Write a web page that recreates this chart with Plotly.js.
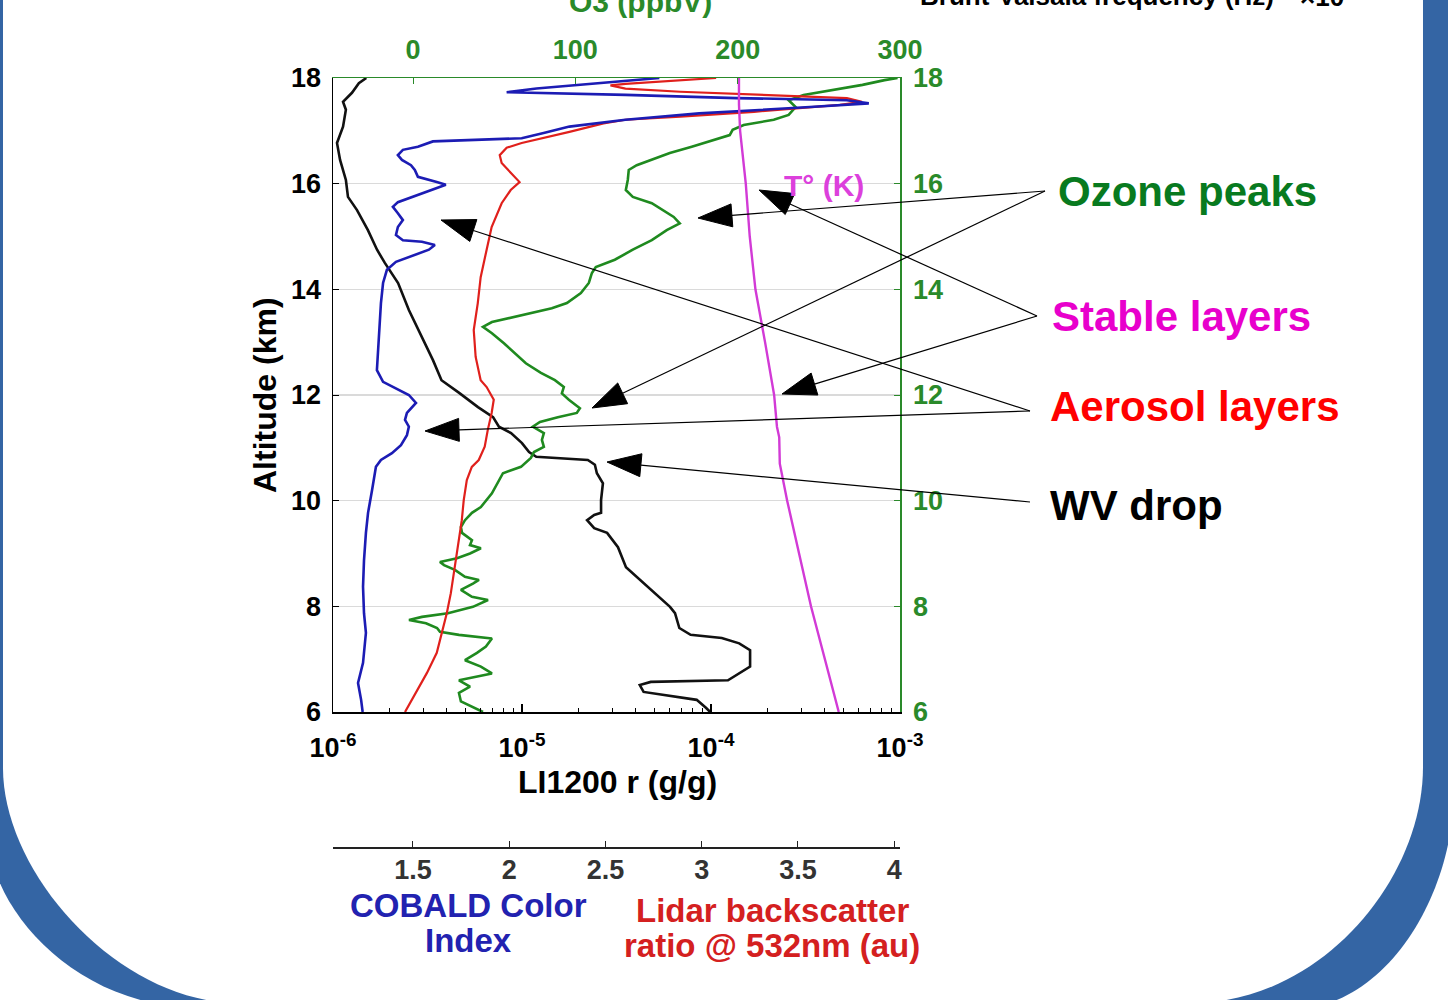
<!DOCTYPE html>
<html><head><meta charset="utf-8">
<script src="https://cdn.plot.ly/plotly-3.0.1.min.js"></script>
<style>html,body{margin:0;padding:0;background:#fff;}#chart{width:1448px;height:1000px;}</style>
</head><body><div id="chart"></div>
<script>
// ---------- DATA ----------
// Water vapour mixing ratio, LI1200 (g/g), log axis
const altWV = [6.0,6.08,6.23,6.32,6.38,6.51,6.57,6.6,6.74,6.86,7.17,7.30,7.40,7.46,7.59,7.87,7.99,8.25,8.50,8.74,9.12,9.39,9.48,9.63,9.73,9.77,10.01,10.33,10.52,10.68,10.77,10.83,10.92,11.09,11.28,11.40,11.58,11.77,12.04,12.28,12.66,13.1,13.61,14.12,14.5,14.75,15.12,15.5,15.75,16.07,16.45,16.77,17.08,17.40,17.55,17.72,17.9,18.0];
const wvMixingRatio = [9.9e-5,9.4e-5,8.4e-5,5.5e-5,4.4e-5,4.2e-5,4.8e-5,1.23e-4,1.41e-4,1.61e-4,1.61e-4,1.41e-4,1.14e-4,7.8e-5,6.8e-5,6.45e-5,6.07e-5,5.06e-5,4.2e-5,3.55e-5,3.22e-5,2.82e-5,2.41e-5,2.21e-5,2.41e-5,2.62e-5,2.62e-5,2.68e-5,2.49e-5,2.43e-5,2.23e-5,1.19e-5,1.09e-5,1.0e-5,8.75e-6,7.55e-6,7.03e-6,5.85e-6,4.65e-6,3.75e-6,3.38e-6,2.96e-6,2.52e-6,2.21e-6,1.88e-6,1.71e-6,1.53e-6,1.34e-6,1.20e-6,1.17e-6,1.09e-6,1.05e-6,1.13e-6,1.17e-6,1.13e-6,1.26e-6,1.37e-6,1.50e-6];

// COBALD colour index
const altCobald = [6.0,6.23,6.55,6.93,7.50,7.87,8.37,8.87,9.39,9.77,10.2,10.64,10.77,10.9,11.05,11.24,11.40,11.53,11.66,11.85,12.0,12.15,12.25,12.47,13.10,13.74,14.12,14.37,14.52,14.65,14.75,14.84,14.90,14.93,15.03,15.18,15.31,15.44,15.56,15.65,15.79,15.92,15.98,16.03,16.13,16.26,16.35,16.45,16.54,16.64,16.70,16.80,16.83,16.86,16.96,17.08,17.21,17.33,17.45,17.52,17.58,17.62,17.68,17.73,17.80,17.89,17.98,18.0];
const cobaldCI = [1.239,1.231,1.215,1.241,1.256,1.246,1.241,1.246,1.256,1.267,1.288,1.308,1.334,1.391,1.438,1.469,1.479,1.459,1.469,1.516,1.479,1.402,1.345,1.313,1.324,1.334,1.345,1.365,1.412,1.510,1.583,1.614,1.547,1.448,1.412,1.422,1.448,1.422,1.396,1.422,1.526,1.624,1.671,1.624,1.526,1.510,1.490,1.443,1.422,1.448,1.526,1.604,1.832,2.065,2.179,2.313,2.604,2.987,3.562,3.868,3.754,3.179,2.604,1.987,2.142,2.412,2.697,2.780];

// Lidar backscatter ratio @ 532 nm
const altLidar = [6.0,6.36,6.74,7.12,7.50,7.87,8.25,8.75,9.25,9.63,10.01,10.39,10.64,10.77,11.02,11.34,11.66,11.91,12.15,12.28,12.72,13.23,13.74,14.23,14.75,15.18,15.63,15.88,16.03,16.2,16.39,16.54,16.68,16.77,16.86,16.98,17.14,17.21,17.27,17.36,17.49,17.55,17.62,17.68,17.74,17.80,17.86,17.89,17.94,18.0];
const lidarBSR = [1.459,1.516,1.573,1.624,1.650,1.676,1.697,1.718,1.738,1.754,1.764,1.780,1.806,1.842,1.873,1.889,1.909,1.920,1.883,1.852,1.826,1.816,1.837,1.852,1.883,1.909,1.961,2.008,2.054,2.008,1.961,1.951,1.987,2.065,2.179,2.313,2.490,2.604,2.889,3.272,3.718,3.832,3.754,3.272,2.889,2.604,2.526,2.604,2.795,3.075];

// Ozone (ppbV)
const altO3 = [6.0,6.08,6.2,6.36,6.48,6.6,6.73,6.86,6.98,7.12,7.24,7.39,7.46,7.52,7.59,7.68,7.74,7.80,7.87,7.99,8.12,8.18,8.31,8.43,8.50,8.56,8.69,8.78,8.84,8.91,9.0,9.10,9.16,9.25,9.39,9.5,9.63,9.77,9.88,10.14,10.39,10.52,10.64,10.81,10.92,11.02,11.15,11.28,11.40,11.49,11.58,11.66,11.75,11.91,12.03,12.15,12.28,12.42,12.6,12.79,12.98,13.17,13.29,13.38,13.51,13.64,13.74,13.93,14.12,14.31,14.42,14.56,14.75,14.93,15.12,15.25,15.37,15.50,15.63,15.75,15.88,16.07,16.26,16.35,16.45,16.58,16.70,16.83,16.92,17.02,17.11,17.21,17.30,17.45,17.58,17.68,17.77,17.87,17.96,18.0];
const ozonePpbv = [43.1,37.5,29.5,28.3,35.1,28.3,48.6,41.8,32.0,39.4,44.9,48.6,28.3,16.6,14.8,8.0,-2.5,5.5,21.5,36.9,46.2,36.3,29.5,36.9,40.6,32.0,25.8,19.1,16.6,27.1,35.1,41.8,35.1,36.3,30.2,29.5,32.0,36.3,41.8,48.6,52.9,55.4,66.5,72.6,74.5,80.6,79.4,80.6,73.8,78.2,89.2,100.9,102.8,96.0,91.7,92.9,87.4,78.8,69.5,62.8,56.0,48.6,43.1,48.6,67.1,85.5,94.8,103.4,108.3,110.2,112.6,124.3,135.4,147.1,156.3,164.3,160.6,153.8,147.1,135.4,131.1,132.3,132.9,137.8,147.1,158.2,171.7,185.8,195.1,196.9,203.7,222.2,231.4,235.7,231.4,240.6,258.5,276.9,290.5,298.5];

// Temperature (K) - its axis is not shown in the picture
const altT = [6.0,7.0,8.0,9.0,10.0,10.7,11.2,11.4,12.0,13.0,14.0,15.0,16.0,17.0,17.5,18.0];
const temperatureK = [239.2,236.8,234.3,232.2,230.1,228.8,228.7,228.3,227.8,226.2,224.5,223.5,222.8,221.8,221.6,221.6];

// Tick labels
const altTicks = [6,8,10,12,14,16,18];
const wvTicks = [1e-6,1e-5,1e-4,1e-3];
const wvTickText = ['10<sup>-6</sup>','10<sup>-5</sup>','10<sup>-4</sup>','10<sup>-3</sup>'];
const o3Ticks = [0,100,200,300];
const ratioTicks = [1.5,2,2.5,3,3.5,4];

// ---------- LAYOUT HELPERS ----------
const W = 1448, H = 1000;
const fx = p => p / W, fy = p => 1 - p / H;
const P = (x, y) => fx(x).toFixed(5) + ',' + fy(y).toFixed(5);
const FONT = 'Liberation Sans, Arial, Helvetica, sans-serif';
const GREEN = '#2a8a2a';
const domX = [fx(333), fx(900)];
const domY = [fy(712), fy(78)];

const minorWV = [];
[1e-6,1e-5,1e-4].forEach(d => { for (let k = 2; k <= 9; k++) minorWV.push(k * d); });

const tf = (c) => ({family: FONT, size: 27, color: c, weight: 'bold'});

const traces = [
  {x: lidarBSR, y: altLidar, xaxis: 'x3', yaxis: 'y', mode: 'lines', name: 'Lidar BSR', line: {color: '#e0201c', width: 2.2}},
  {x: cobaldCI, y: altCobald, xaxis: 'x3', yaxis: 'y', mode: 'lines', name: 'COBALD CI', line: {color: '#1c1cb4', width: 2.6}},
  {x: ozonePpbv, y: altO3, xaxis: 'x2', yaxis: 'y2', mode: 'lines', name: 'O3', line: {color: '#1f8a1f', width: 2.6}},
  {x: wvMixingRatio, y: altWV, xaxis: 'x', yaxis: 'y', mode: 'lines', name: 'WV', line: {color: '#111111', width: 2.6}},
  {x: temperatureK, y: altT, xaxis: 'x4', yaxis: 'y', mode: 'lines', name: 'T', line: {color: '#d23ad6', width: 2.4}}
];

// Frame (blue slide border)
const outerPath = `M${P(-10,-20)} L${P(-10,840)} C${P(-10,900)} ${P(60,990)} ${P(165,1005)} L${P(1290,1010)} C${P(1390,1008)} ${P(1454,890)} ${P(1454,790)} L${P(1454,-20)} Z`;
const innerPath = `M${P(3,-20)} L${P(3,768)} C${P(3,875)} ${P(120,1003)} ${P(238,1003)} L${P(1192,1003)} C${P(1320,1003)} ${P(1423,880)} ${P(1423,767)} L${P(1423,-20)} Z`;
const shapes = [
  {type: 'path', xref: 'paper', yref: 'paper', layer: 'below', path: outerPath, fillcolor: '#3465a4', line: {width: 0}},
  {type: 'path', xref: 'paper', yref: 'paper', layer: 'below', path: innerPath, fillcolor: '#ffffff', line: {width: 0}}
];

function arrow(tail, tip) {
  const dx = tip[0] - tail[0], dy = tip[1] - tail[1];
  const len = Math.hypot(dx, dy), ux = dx / len, uy = dy / len;
  const L = 34, hw = 11.5;
  const bx = tip[0] - ux * L, by = tip[1] - uy * L;
  const nx = -uy, ny = ux;
  shapes.push({type: 'line', xref: 'paper', yref: 'paper', x0: fx(tail[0]), y0: fy(tail[1]), x1: fx(bx), y1: fy(by), line: {color: '#000', width: 1.2}});
  shapes.push({type: 'path', xref: 'paper', yref: 'paper',
    path: `M${P(tip[0], tip[1])} L${P(bx + nx * hw, by + ny * hw)} L${P(bx - nx * hw, by - ny * hw)} Z`,
    fillcolor: '#000', line: {color: '#000', width: 1}});
}
arrow([1045,191], [698,218]);
arrow([1045,191], [592,408]);
arrow([1037,316], [759,190]);
arrow([1037,316], [782,394]);
arrow([1030,411], [441,220]);
arrow([1030,411], [425,431]);
arrow([1030,502], [607,462]);

function txt(text, x, y, size, color, xanchor, extra) {
  return Object.assign({text: text, x: fx(x), y: fy(y), xref: 'paper', yref: 'paper', showarrow: false,
    xanchor: xanchor || 'center', yanchor: 'middle', font: {family: FONT, size: size, color: color, weight: 'bold'}}, extra || {});
}
const annotations = [
  txt('Ozone peaks', 1056, 191, 42, '#087a1f', 'left'),
  txt('Stable layers', 1050, 316, 42, '#e800cc', 'left'),
  txt('Aerosol layers', 1048, 406, 42, '#ff0000', 'left'),
  txt('WV drop', 1048, 505, 42, '#000000', 'left'),
  txt('T° (K)', 824, 185, 30, '#dc40dc'),
  txt('O3 (ppbV)', 640, 1.5, 30, GREEN),
  txt('Brunt-Vaisala frequency (Hz)', 918, -4, 26, '#000000', 'left'),
  txt('×10<sup>-3</sup>', 1298, -4, 26, '#000000', 'left'),
  txt('LI1200 r (g/g)', 617, 782, 32, '#000000'),
  txt('Altitude (km)', 265, 395, 32, '#000000', 'center', {textangle: -90}),
  txt('COBALD Color', 468, 905, 33, '#2222b0'),
  txt('Index', 468, 940, 33, '#2222b0'),
  txt('Lidar backscatter', 772, 910, 33, '#d42020'),
  txt('ratio @ 532nm (au)', 772, 945, 33, '#d42020')
];

const layout = {
  width: W, height: H, autosize: false,
  margin: {l: 0, r: 0, t: 0, b: 0, pad: 0},
  paper_bgcolor: '#ffffff', plot_bgcolor: 'rgba(0,0,0,0)',
  showlegend: false,
  xaxis: {type: 'log', range: [-6, -3], domain: domX, anchor: 'y', side: 'bottom',
    showline: true, linecolor: '#000', linewidth: 1.5, showgrid: false, zeroline: false,
    ticks: 'inside', ticklen: 8, tickwidth: 1.2, tickcolor: '#000',
    tickmode: 'array', tickvals: wvTicks, ticktext: wvTickText, tickfont: tf('#000'), ticklabelstandoff: 11,
    minor: {tickmode: 'array', tickvals: minorWV, ticks: 'inside', ticklen: 4, tickwidth: 1, tickcolor: '#000', showgrid: false}},
  xaxis2: {overlaying: 'x', side: 'top', anchor: 'y', range: [-49.3, 300],
    showline: true, linecolor: GREEN, linewidth: 1.5, showgrid: false, zeroline: false,
    ticks: 'inside', ticklen: 6, tickcolor: GREEN, tickmode: 'array', tickvals: o3Ticks, tickfont: tf(GREEN), ticklabelstandoff: 7},
  xaxis3: {overlaying: 'x', anchor: 'free', position: fy(847), side: 'bottom', range: [1.085, 4.03],
    showline: true, linecolor: '#222', linewidth: 1.5, showgrid: false, zeroline: false,
    ticks: 'inside', ticklen: 6, tickcolor: '#222', tickmode: 'array', tickvals: ratioTicks, tickfont: tf('#333'), ticklabelstandoff: -2},
  xaxis4: {overlaying: 'x', anchor: 'y', range: [150, 250], visible: false},
  yaxis: {range: [6, 18], domain: domY, anchor: 'x', side: 'left',
    showline: true, linecolor: '#000', linewidth: 1.5, zeroline: false,
    showgrid: true, gridcolor: '#dadada', gridwidth: 1.5,
    ticks: 'inside', ticklen: 6, tickcolor: '#000', tickmode: 'array', tickvals: altTicks, tickfont: tf('#000'), ticklabelstandoff: 5},
  yaxis2: {overlaying: 'y', side: 'right', anchor: 'x', range: [6, 18],
    showline: true, linecolor: GREEN, linewidth: 1.5, zeroline: false, showgrid: false,
    ticks: 'inside', ticklen: 6, tickcolor: GREEN, tickmode: 'array', tickvals: altTicks, tickfont: tf(GREEN), ticklabelstandoff: 6},
  shapes: shapes,
  annotations: annotations
};

Plotly.newPlot('chart', traces, layout, {displayModeBar: false, staticPlot: true});
</script></body></html>
